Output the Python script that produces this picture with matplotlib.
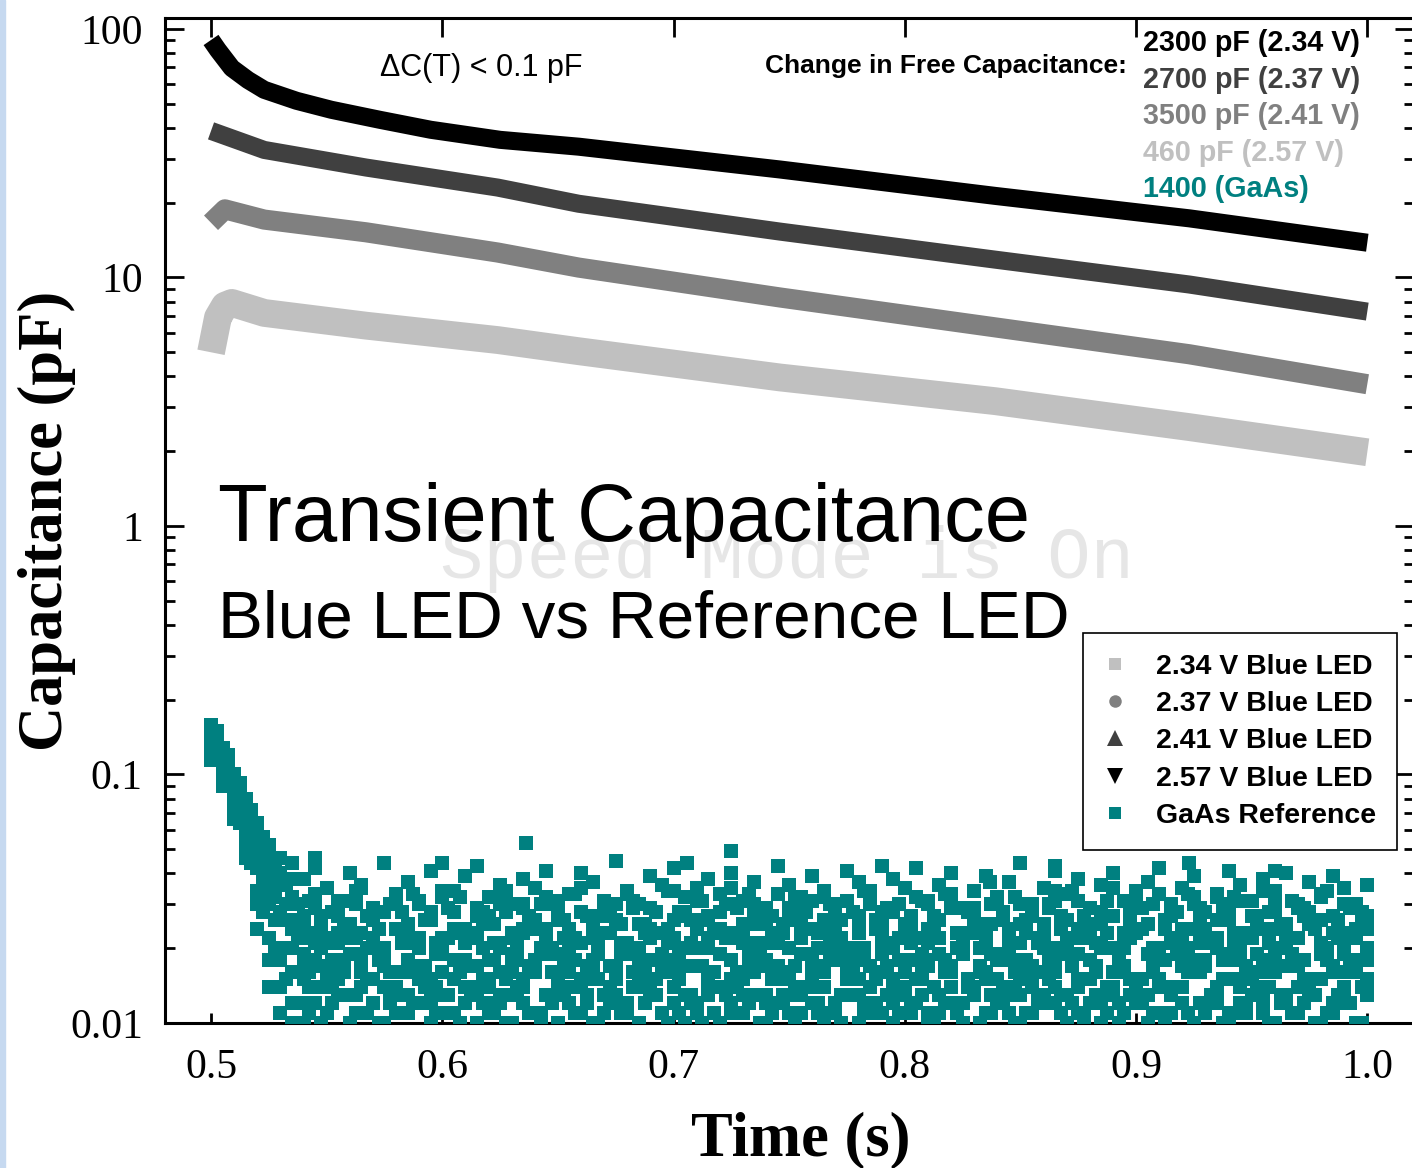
import numpy as np
import matplotlib
matplotlib.use('Agg')
import matplotlib.pyplot as plt
from matplotlib.lines import Line2D
from matplotlib.patches import Rectangle
from matplotlib.font_manager import FontProperties

# ---- data ----
# 2.57 V Blue LED (black)
t_257 = [0.500, 0.503, 0.509, 0.516, 0.523, 0.537, 0.552, 0.573, 0.595, 0.625, 0.659,
         0.746, 0.839, 0.923, 1.000]
c_257 = [90.3, 82.3, 69.6, 62.3, 56.9, 51.4, 47.3, 43.1, 39.3, 35.8, 33.6,
         27.2, 21.3, 17.3, 13.8]

# 2.41 V Blue LED (dark gray)
t_241 = [0.500, 0.523, 0.567, 0.624, 0.659, 0.746, 0.839, 0.923, 1.000]
c_241 = [38.9, 32.6, 27.7, 23.0, 19.8, 15.3, 11.8, 9.37, 7.29]

# 2.37 V Blue LED (gray)
t_237 = [0.500, 0.506, 0.523, 0.567, 0.624, 0.659, 0.746, 0.839, 0.923, 1.000]
c_237 = [16.6, 18.8, 17.1, 15.2, 12.6, 10.96, 8.31, 6.30, 4.91, 3.72]

# 2.34 V Blue LED (light gray)
t_234 = [0.500, 0.503, 0.506, 0.509, 0.523, 0.567, 0.624, 0.659, 0.746, 0.839, 0.923, 1.000]
c_234 = [5.0, 6.9, 7.7, 7.9, 7.2, 6.4, 5.6, 5.05, 3.96, 3.18, 2.50, 1.98]

# GaAs reference (teal), values in units of 0.001 pF
teal_t = [0.500, 0.505, 0.510, 0.515, 0.520, 0.525, 0.530, 0.535, 0.540, 0.545,
          0.550, 0.555, 0.560, 0.565, 0.570, 0.575, 0.580, 0.585, 0.590, 0.595,
          0.600, 0.605, 0.610, 0.615, 0.620, 0.625, 0.630, 0.635, 0.640, 0.645,
          0.650, 0.655, 0.660, 0.665, 0.670, 0.675, 0.680, 0.685, 0.690, 0.695,
          0.700, 0.705, 0.710, 0.715, 0.720, 0.725, 0.730, 0.735, 0.740, 0.745,
          0.750, 0.755, 0.760, 0.765, 0.770, 0.775, 0.780, 0.785, 0.790, 0.795,
          0.800, 0.805, 0.810, 0.815, 0.820, 0.825, 0.830, 0.835, 0.840, 0.845,
          0.850, 0.855, 0.860, 0.865, 0.870, 0.875, 0.880, 0.885, 0.890, 0.895,
          0.900, 0.905, 0.910, 0.915, 0.920, 0.925, 0.930, 0.935, 0.940, 0.945,
          0.950, 0.955, 0.960, 0.965, 0.970, 0.975, 0.980, 0.985, 0.990, 0.995,
          1.000]
teal_c1 = [158, 128, 100, 80, 64, 52, 46, 44,
           38, 42, 35, 31, 40, 36, 29, 44, 33, 37, 30, 41, 34, 28, 39, 43, 32, 36, 30, 38,
           35, 41, 29, 33, 40, 37, 31, 45, 34, 30, 39, 36, 42, 28, 35, 38, 33, 40, 31, 37,
           29, 43, 36, 32, 39, 34, 30, 41, 37, 33, 28, 38, 35, 42, 31, 36, 40, 29, 34, 39,
           32, 37, 44, 30, 35, 41, 33, 38, 29, 36, 40, 31, 34, 37, 42, 30, 35, 39, 28, 33,
           41, 36, 31, 38, 34, 40, 29, 37, 32, 39, 35, 30, 36]
teal_c2 = [145, 115, 88, 68, 52, 40, 36, 32,
           24, 29, 21, 27, 31, 23, 26, 20, 30, 25, 22, 28, 32, 24, 21, 27, 25, 30, 23, 29,
           26, 20, 31, 24, 28, 22, 27, 30, 21, 25, 29, 23, 26, 32, 20, 27, 24, 30, 22, 28,
           25, 21, 29, 26, 31, 23, 27, 20, 24, 30, 22, 28, 25, 32, 21, 26, 29, 23, 27, 24,
           30, 20, 25, 28, 22, 31, 26, 24, 29, 21, 27, 23, 30, 25, 20, 28, 24, 32, 22, 26,
           29, 21, 27, 24, 31, 25, 22, 28, 26, 23, 30, 24, 27]
teal_c3 = [132, 104, 78, 58, 42, 30, 26, 24,
           19, 23, 17, 21, 25, 18, 22, 20, 24, 17, 21, 26, 19, 23, 18, 22, 25, 20, 17, 24,
           18, 22, 26, 19, 21, 17, 23, 25, 20, 18, 24, 19, 22, 17, 26, 20, 23, 18, 21, 25,
           17, 22, 20, 24, 18, 26, 21, 19, 23, 17, 25, 20, 18, 22, 24, 19, 17, 23, 26, 21,
           18, 24, 21, 17, 25, 20, 22, 19, 23, 26, 20, 17, 23, 25, 19, 21, 24, 18, 22, 20,
           26, 19, 22, 18, 24, 21, 17, 25, 20, 23, 19, 22, 18]
teal_c4 = [120, 95, 70, 50, 34, 22, 18, 16,
           15, 18, 14, 16, 13, 19, 15, 17, 14, 18, 16, 13, 19, 15, 17, 14, 18, 16, 13, 15,
           17, 19, 14, 16, 15, 18, 13, 17, 19, 14, 15, 16, 18, 13, 17, 14, 19, 15, 16, 18,
           13, 17, 15, 19, 14, 16, 18, 13, 15, 17, 19, 14, 16, 15, 18, 13, 17, 19, 14, 16,
           15, 18, 13, 17, 16, 14, 19, 15, 18, 13, 16, 17, 14, 19, 15, 13, 18, 16, 17, 14,
           19, 15, 16, 13, 18, 17, 14, 15, 19, 16, 14, 17, 15]
teal_c5 = [150, 122, 95, 75, 58, 46, 40, 38,
           12, 14, 11, 15, 13, 16, 12, 14, 11, 13, 15, 12, 16, 11, 14, 13, 15, 12, 16, 14,
           11, 13, 15, 12, 14, 16, 11, 13, 12, 15, 14, 11, 16, 13, 12, 15, 14, 11, 13, 16,
           12, 15, 13, 11, 16, 14, 12, 15, 13, 11, 16, 12, 14, 15, 11, 13, 16, 12, 14, 15,
           13, 11, 15, 14, 12, 16, 13, 11, 15, 12, 14, 16, 12, 13, 15, 11, 14, 16, 12, 13,
           11, 14, 15, 12, 16, 13, 11, 14, 15, 12, 13, 16, 14]
teal_c6 = [138, 110, 84, 63, 46, 34, 28, 20,
           10, 12, 11, 13, 10, 11, 12, 10, 13, 11, 12, 10, 13, 11, 12, 10, 11, 13, 10, 12,
           11, 13, 10, 12, 11, 10, 13, 12, 11, 10, 13, 11, 12, 10, 11, 13, 10, 12, 11, 13,
           10, 12, 11, 13, 12, 10, 11, 13, 10, 12, 11, 10, 13, 12, 10, 11, 12, 10, 13, 11,
           12, 13, 10, 11, 13, 12, 10, 11, 12, 10, 13, 11, 12, 10, 11, 13, 12, 10, 11, 12,
           10, 12, 13, 11, 10, 12, 11, 13, 10, 11, 12, 10, 13]
teal_c7 = [126, 98, 74, 54, 30, 18, 14, 12,
           27, 33, 22, 30, 25, 35, 21, 28, 32, 24, 31, 26, 20, 34, 23, 29, 27, 33, 22, 30,
           25, 32, 28, 21, 35, 24, 30, 26, 33, 20, 29, 23, 34, 27, 31, 22, 28, 35, 25, 30,
           21, 33, 26, 29, 24, 32, 20, 31, 27, 34, 23, 28, 35, 22, 30, 26, 33, 21, 29, 25,
           32, 24, 30, 27, 20, 34, 26, 31, 23, 28, 35, 22, 29, 25, 33, 27, 21, 30, 24, 32,
           26, 31, 23, 34, 28, 22, 30, 25, 33, 27, 21, 29, 24]
teal_c8 = [114, 90, 66, 46, 24, 14, 11, 10,
           17, 21, 15, 23, 19, 14, 22, 18, 24, 16, 20, 15, 22, 18, 24, 17, 14, 21, 19, 23,
           16, 24, 19, 14, 21, 17, 23, 15, 20, 18, 22, 17, 14, 20, 24, 16, 19, 23, 15, 21,
           18, 23, 16, 22, 15, 20, 24, 17, 19, 14, 21, 15, 24, 18, 17, 22, 14, 20, 23, 16,
           19, 22, 17, 15, 23, 18, 21, 14, 24, 20, 16, 20, 23, 19, 14, 21, 17, 24, 18, 22,
           15, 19, 22, 16, 20, 24, 18, 14, 21, 17, 23, 18, 20]

# second set of GaAs samples, between the first ones in time
teal_t2 = [0.5025, 0.5075, 0.5125, 0.5175, 0.5225, 0.5275, 0.5325, 0.5375, 0.5425, 0.5475,
           0.5525, 0.5575, 0.5625, 0.5675, 0.5725, 0.5775, 0.5825, 0.5875, 0.5925, 0.5975,
           0.6025, 0.6075, 0.6125, 0.6175, 0.6225, 0.6275, 0.6325, 0.6375, 0.6425, 0.6475,
           0.6525, 0.6575, 0.6625, 0.6675, 0.6725, 0.6775, 0.6825, 0.6875, 0.6925, 0.6975,
           0.7025, 0.7075, 0.7125, 0.7175, 0.7225, 0.7275, 0.7325, 0.7375, 0.7425, 0.7475,
           0.7525, 0.7575, 0.7625, 0.7675, 0.7725, 0.7775, 0.7825, 0.7875, 0.7925, 0.7975,
           0.8025, 0.8075, 0.8125, 0.8175, 0.8225, 0.8275, 0.8325, 0.8375, 0.8425, 0.8475,
           0.8525, 0.8575, 0.8625, 0.8675, 0.8725, 0.8775, 0.8825, 0.8875, 0.8925, 0.8975,
           0.9025, 0.9075, 0.9125, 0.9175, 0.9225, 0.9275, 0.9325, 0.9375, 0.9425, 0.9475,
           0.9525, 0.9575, 0.9625, 0.9675, 0.9725, 0.9775, 0.9825, 0.9875, 0.9925, 0.9975]
teal_c9 = [150, 120, 92, 72, 56, 44, 36, 30,
           22, 27, 18, 25, 30, 20, 24, 16, 28, 21, 26, 19, 29, 23, 17, 25, 21, 28, 18, 24,
           30, 20, 26, 22, 17, 27, 23, 19, 29, 25, 18, 24, 28, 21, 26, 16, 30, 22, 25, 19,
           27, 23, 17, 29, 20, 25, 22, 28, 18, 26, 21, 30, 24, 19, 27, 16, 23, 29, 20, 25,
           28, 18, 26, 22, 30, 24, 17, 27, 21, 23, 19, 25, 29, 16, 24, 28, 20, 26, 22, 30,
           23, 17, 27, 21, 25, 19, 29, 24, 18, 26, 22, 28]
teal_c10 = [135, 106, 82, 62, 44, 32, 26, 22,
            14, 17, 12, 16, 11, 15, 18, 13, 16, 12, 17, 14, 11, 18, 13, 15, 12, 16, 14, 17,
            11, 16, 13, 18, 12, 15, 17, 11, 14, 16, 13, 18, 15, 12, 17, 11, 14, 16, 18, 13,
            15, 12, 17, 14, 11, 18, 13, 16, 12, 15, 17, 13, 11, 16, 14, 18, 12, 15, 17, 11,
            14, 16, 18, 12, 15, 13, 17, 11, 16, 14, 12, 15, 13, 17, 18, 14, 11, 16, 13, 15,
            18, 11, 14, 16, 12, 17, 15, 13, 18, 12, 16, 14]
teal_c11 = [124, 96, 72, 52, 38, 26, 20, 16,
            11, 10, 12, 9, 13, 11, 10, 12, 11, 9, 12, 11, 13, 10, 9, 12, 11, 10, 13, 11,
            10, 12, 9, 11, 13, 10, 12, 11, 9, 12, 13, 10, 11, 12, 10, 9, 13, 11, 12, 10,
            11, 13, 10, 9, 12, 11, 10, 13, 11, 12, 9, 11, 12, 13, 10, 12, 11, 9, 10, 13,
            12, 10, 11, 13, 9, 11, 12, 10, 13, 11, 10, 13, 12, 11, 10, 9, 11, 12, 13, 10,
            11, 12, 9, 10, 13, 11, 12, 10, 11, 13, 12, 10]
teal_c12 = [142, 112, 86, 66, 50, 38, 30, 26,
            31, 25, 28, 22, 34, 27, 20, 30, 24, 33, 26, 21, 29, 32, 23, 28, 25, 34, 20, 27,
            24, 30, 22, 33, 27, 21, 29, 25, 31, 23, 28, 34, 20, 26, 31, 24, 22, 29, 33, 27,
            21, 25, 32, 28, 23, 30, 26, 20, 34, 24, 29, 22, 27, 31, 25, 33, 20, 28, 24, 30,
            26, 32, 23, 21, 29, 27, 34, 22, 25, 31, 20, 28, 24, 30, 26, 22, 33, 29, 21, 27,
            32, 23, 25, 28, 20, 31, 27, 24, 34, 22, 29, 25]
teal_c13 = [118, 90, 64, 44, 28, 20, 15, 12,
            16, 20, 14, 18, 22, 15, 19, 13, 21, 17, 14, 19, 22, 16, 13, 20, 18, 15, 21, 17,
            20, 13, 17, 22, 15, 19, 14, 21, 16, 18, 15, 21, 18, 13, 20, 16, 22, 14, 19, 17,
            22, 16, 14, 19, 17, 21, 13, 18, 20, 15, 13, 18, 21, 15, 22, 17, 20, 14, 16, 19,
            19, 14, 16, 21, 18, 13, 22, 15, 17, 20, 17, 22, 15, 20, 14, 19, 16, 21, 13, 18,
            21, 15, 19, 14, 17, 22, 18, 13, 20, 16, 18, 14]
teal_out_t = [0.545, 0.600, 0.636, 0.706, 0.725, 0.790, 0.837, 0.865, 0.923, 0.960]
teal_out_c = [0.046, 0.044, 0.053, 0.044, 0.049, 0.043, 0.037, 0.043, 0.044, 0.041]

xticks = [0.5, 0.6, 0.7, 0.8, 0.9, 1.0]
xtick_labels = ['0.5', '0.6', '0.7', '0.8', '0.9', '1.0']
yticks = [0.01, 0.1, 1, 10, 100]
ytick_labels = ['0.01', '0.1', '1', '10', '100']

legend_labels = ['2.34 V Blue LED', '2.37 V Blue LED', '2.41 V Blue LED',
                 '2.57 V Blue LED', 'GaAs Reference']
free_cap = ['2300 pF (2.34 V)', '2700 pF (2.37 V)', '3500 pF (2.41 V)',
            '460 pF (2.57 V)', '1400 (GaAs)']

BLACK = '#000000'
DGRAY = '#404040'
GRAY = '#808080'
LGRAY = '#c0c0c0'
TEAL = '#008080'

W, H = 1412, 1168
SANS = 'Liberation Sans'
SERIF = 'Liberation Serif'


def px(x, y):
    return x / W, 1 - y / H


fig = plt.figure(figsize=(W / 100, H / 100), dpi=100)
ax = fig.add_axes([165 / W, 1 - 1023 / H, (1414 - 165) / W, (1023 - 18) / H])

# light blue strip at the left edge of the screenshot
fig.patches.append(Rectangle((0, 0), 5 / W, 1, transform=fig.transFigure,
                             color='#c6d9f0', zorder=0))

# curves
band = dict(solid_capstyle='butt', solid_joinstyle='round', zorder=2)
ax.plot(t_234, c_234, color=LGRAY, lw=20, **band)
ax.plot(t_237, c_237, color=GRAY, lw=14.5, **band)
ax.plot(t_241, c_241, color=DGRAY, lw=13, **band)
ax.plot(t_257, c_257, color=BLACK, lw=13, **band)

ms_teal = 10.3
for layer in [teal_c1, teal_c2, teal_c3, teal_c4, teal_c5, teal_c6, teal_c7, teal_c8]:
    ax.plot(teal_t, np.array(layer) / 1000, 's', color=TEAL, ms=ms_teal, mew=0, zorder=3)
for layer in [teal_c9, teal_c10, teal_c11, teal_c12, teal_c13]:
    ax.plot(teal_t2, np.array(layer) / 1000, 's', color=TEAL, ms=ms_teal, mew=0, zorder=3)
ax.plot(teal_out_t, teal_out_c, 's', color=TEAL, ms=ms_teal, mew=0, zorder=3)

ax.set_yscale('log')
ax.set_xlim(0.4801, 1.0202)
ax.set_ylim(0.01, 110.7)

ax.set_xticks(xticks)
ax.set_xticklabels(xtick_labels, fontfamily=SERIF, fontsize=30)
ax.set_yticks(yticks)
ax.set_yticklabels(ytick_labels, fontfamily=SERIF, fontsize=30)
ax.xaxis.set_minor_locator(matplotlib.ticker.NullLocator())

ax.tick_params(axis='both', which='both', direction='in', top=True, right=True, width=2)
ax.tick_params(axis='y', which='major', length=13.5, pad=16)
ax.tick_params(axis='y', which='minor', length=7.5)
ax.tick_params(axis='x', which='major', length=7.5, pad=18)
for tk in ax.xaxis.get_major_ticks():
    tk.tick2line.set_markersize(14)

for s in ax.spines.values():
    s.set_linewidth(2.2)

ax.set_xlabel('Time (s)', fontfamily=SERIF, fontweight='bold', fontsize=45)
ax.xaxis.set_label_coords(0.509, -0.088)
ax.set_ylabel('Capacitance (pF)', fontfamily=SERIF, fontweight='bold', fontsize=45)
ax.yaxis.set_label_coords(-0.071, 0.50)

# annotations
fig.text(*px(380, 68), '\u0394C(T) < 0.1 pF', family=SANS, fontsize=22, va='center', ha='left')
fig.text(*px(1127, 66), 'Change in Free Capacitance:', family=SANS, fontweight='bold',
         fontsize=19, va='center', ha='right')
for i, (txt, col) in enumerate(zip(free_cap, [BLACK, DGRAY, GRAY, LGRAY, TEAL])):
    fig.text(*px(1143, 43 + 36.5 * i), txt, family=SANS, fontweight='bold', fontsize=20.7,
             color=col, va='center', ha='left')

fig.text(*px(440, 578), 'Speed Mode is On', family='Liberation Mono', fontsize=52,
         color='#e6e6e6', va='baseline', ha='left', zorder=1)
fig.text(*px(218, 541), 'Transient Capacitance', family=SANS, fontsize=58.6,
         va='baseline', ha='left', zorder=5)
fig.text(*px(218, 637), 'Blue LED vs Reference LED', family=SANS, fontsize=48.6,
         va='baseline', ha='left', zorder=5)

# legend
handles = [
    Line2D([], [], ls='none', marker='s', color=LGRAY, ms=8.5, mew=0),
    Line2D([], [], ls='none', marker='o', color=GRAY, ms=9, mew=0),
    Line2D([], [], ls='none', marker='^', color=DGRAY, ms=11, mew=0),
    Line2D([], [], ls='none', marker='v', color=BLACK, ms=11, mew=0),
    Line2D([], [], ls='none', marker='s', color=TEAL, ms=8.5, mew=0),
]
leg = ax.legend(handles, legend_labels, loc='upper right', bbox_to_anchor=(0.9864, 0.388),
                borderaxespad=0, prop=FontProperties(family=SANS, weight='bold', size=20.5),
                frameon=True, fancybox=False, edgecolor='black', framealpha=1,
                borderpad=0.72, labelspacing=0.40, handlelength=0.8, handletextpad=1.04)
leg.get_frame().set_linewidth(1.2)
leg.set_zorder(6)

fig.savefig('out.png', dpi=100)
